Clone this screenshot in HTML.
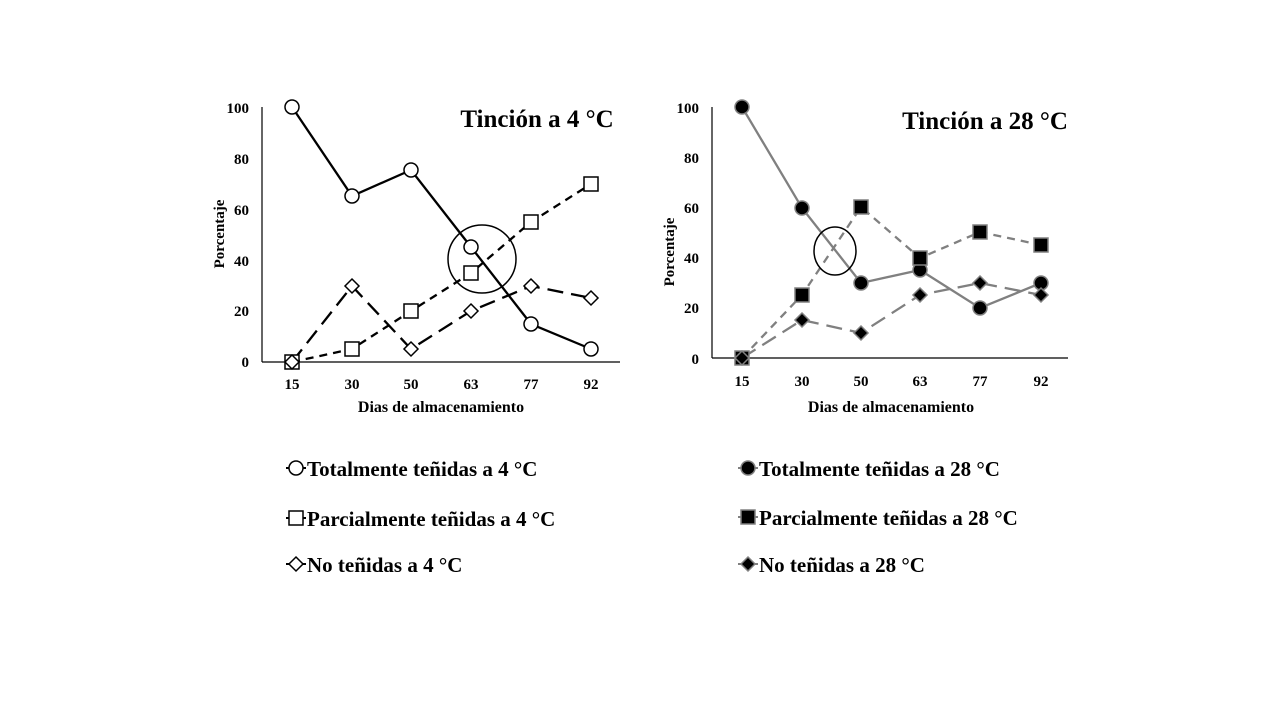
<!DOCTYPE html>
<html><head><meta charset="utf-8"><style>
body{margin:0;background:#fff}
svg{display:block}
text{font-family:"Liberation Serif",serif;font-weight:bold;fill:#000}
</style></head><body>
<svg width="1280" height="720" viewBox="0 0 1280 720">
<!-- LEFT CHART -->
<g>
<line x1="262" y1="107" x2="262" y2="362" stroke="#000" stroke-width="1.2"/>
<line x1="262" y1="362" x2="620" y2="362" stroke="#000" stroke-width="1.2"/>
<g font-size="15" text-anchor="end">
<text x="249" y="367">0</text><text x="249" y="316">20</text><text x="249" y="266">40</text>
<text x="249" y="215">60</text><text x="249" y="164">80</text><text x="249" y="113">100</text>
</g>
<g font-size="15" text-anchor="middle">
<text x="292" y="389">15</text><text x="352" y="389">30</text><text x="411" y="389">50</text>
<text x="471" y="389">63</text><text x="531" y="389">77</text><text x="591" y="389">92</text>
<text x="441" y="412" font-size="16">Dias de almacenamiento</text>
</g>
<text x="0" y="0" font-size="15" text-anchor="middle" transform="translate(224,234) rotate(-90)">Porcentaje</text>
<text x="537" y="127" font-size="25" text-anchor="middle">Tinción a 4 °C</text>
<polyline points="292,107 352,196 411,170 471,247 531,324 591,349" fill="none" stroke="#000" stroke-width="2.3"/>
<polyline points="292,362 352,349 411,311 471,273 531,222 591,184" fill="none" stroke="#000" stroke-width="2.3" stroke-dasharray="8,6"/>
<polyline points="292,362 352,286 411,349 471,311 531,286 591,298" fill="none" stroke="#000" stroke-width="2.3" stroke-dasharray="16,8"/>
<g fill="#fff" stroke="#000" stroke-width="1.5">
<circle cx="292" cy="107" r="7"/><circle cx="352" cy="196" r="7"/><circle cx="411" cy="170" r="7"/>
<circle cx="471" cy="247" r="7"/><circle cx="531" cy="324" r="7"/><circle cx="591" cy="349" r="7"/>
<rect x="285" y="355" width="14" height="14"/><rect x="345" y="342" width="14" height="14"/><rect x="404" y="304" width="14" height="14"/>
<rect x="464" y="266" width="14" height="14"/><rect x="524" y="215" width="14" height="14"/><rect x="584" y="177" width="14" height="14"/>
<path d="M292,355 l7,7 -7,7 -7,-7z"/><path d="M352,279 l7,7 -7,7 -7,-7z"/><path d="M411,342 l7,7 -7,7 -7,-7z"/>
<path d="M471,304 l7,7 -7,7 -7,-7z"/><path d="M531,279 l7,7 -7,7 -7,-7z"/><path d="M591,291 l7,7 -7,7 -7,-7z"/>
</g>
<circle cx="482" cy="259" r="34" fill="none" stroke="#000" stroke-width="1.5"/>
</g>
<!-- RIGHT CHART -->
<g>
<line x1="712" y1="107" x2="712" y2="358" stroke="#000" stroke-width="1.2"/>
<line x1="712" y1="358" x2="1068" y2="358" stroke="#000" stroke-width="1.2"/>
<g font-size="15" text-anchor="end">
<text x="699" y="364">0</text><text x="699" y="313">20</text><text x="699" y="263">40</text>
<text x="699" y="213">60</text><text x="699" y="163">80</text><text x="699" y="113">100</text>
</g>
<g font-size="15" text-anchor="middle">
<text x="742" y="386">15</text><text x="802" y="386">30</text><text x="861" y="386">50</text>
<text x="920" y="386">63</text><text x="980" y="386">77</text><text x="1041" y="386">92</text>
<text x="891" y="412" font-size="16">Dias de almacenamiento</text>
</g>
<text x="0" y="0" font-size="15" text-anchor="middle" transform="translate(674,252) rotate(-90)">Porcentaje</text>
<text x="985" y="129" font-size="25" text-anchor="middle">Tinción a 28 °C</text>
<polyline points="742,107 802,208 861,283 920,270 980,308 1041,283" fill="none" stroke="#808080" stroke-width="2.3"/>
<polyline points="742,358 802,295 861,207 920,258 980,232 1041,245" fill="none" stroke="#808080" stroke-width="2.3" stroke-dasharray="8,6"/>
<polyline points="742,358 802,320 861,333 920,295 980,283 1041,295" fill="none" stroke="#808080" stroke-width="2.3" stroke-dasharray="16,8"/>
<g fill="#000" stroke="#808080" stroke-width="1.5">
<circle cx="742" cy="107" r="7"/><circle cx="802" cy="208" r="7"/><circle cx="861" cy="283" r="7"/>
<circle cx="920" cy="270" r="7"/><circle cx="980" cy="308" r="7"/><circle cx="1041" cy="283" r="7"/>
<rect x="735" y="351" width="14" height="14"/><rect x="795" y="288" width="14" height="14"/><rect x="854" y="200" width="14" height="14"/>
<rect x="913" y="251" width="14" height="14"/><rect x="973" y="225" width="14" height="14"/><rect x="1034" y="238" width="14" height="14"/>
<path d="M742,351 l7,7 -7,7 -7,-7z"/><path d="M802,313 l7,7 -7,7 -7,-7z"/><path d="M861,326 l7,7 -7,7 -7,-7z"/>
<path d="M920,288 l7,7 -7,7 -7,-7z"/><path d="M980,276 l7,7 -7,7 -7,-7z"/><path d="M1041,288 l7,7 -7,7 -7,-7z"/>
</g>
<ellipse cx="835" cy="251" rx="21" ry="24" fill="none" stroke="#000" stroke-width="1.5"/>
</g>
<!-- LEGENDS -->
<g font-size="21">
<line x1="286" y1="468" x2="306" y2="468" stroke="#000" stroke-width="2"/>
<circle cx="296" cy="468" r="7" fill="#fff" stroke="#000" stroke-width="1.5"/>
<text x="307" y="476">Totalmente teñidas a 4 °C</text>
<line x1="286" y1="518" x2="306" y2="518" stroke="#000" stroke-width="2"/>
<rect x="289" y="511" width="14" height="14" fill="#fff" stroke="#000" stroke-width="1.5"/>
<text x="307" y="526">Parcialmente teñidas a 4 °C</text>
<line x1="286" y1="564" x2="306" y2="564" stroke="#000" stroke-width="2"/>
<path d="M296,557 l7,7 -7,7 -7,-7z" fill="#fff" stroke="#000" stroke-width="1.5"/>
<text x="307" y="572">No teñidas a 4 °C</text>

<line x1="738" y1="468" x2="758" y2="468" stroke="#808080" stroke-width="2"/>
<circle cx="748" cy="468" r="7" fill="#000" stroke="#808080" stroke-width="1.5"/>
<text x="759" y="476">Totalmente teñidas a 28 °C</text>
<line x1="738" y1="517" x2="758" y2="517" stroke="#808080" stroke-width="2"/>
<rect x="741" y="510" width="14" height="14" fill="#000" stroke="#808080" stroke-width="1.5"/>
<text x="759" y="525">Parcialmente teñidas a 28 °C</text>
<line x1="738" y1="564" x2="758" y2="564" stroke="#808080" stroke-width="2"/>
<path d="M748,557 l7,7 -7,7 -7,-7z" fill="#000" stroke="#808080" stroke-width="1.5"/>
<text x="759" y="572">No teñidas a 28 °C</text>
</g>
</svg>
</body></html>
